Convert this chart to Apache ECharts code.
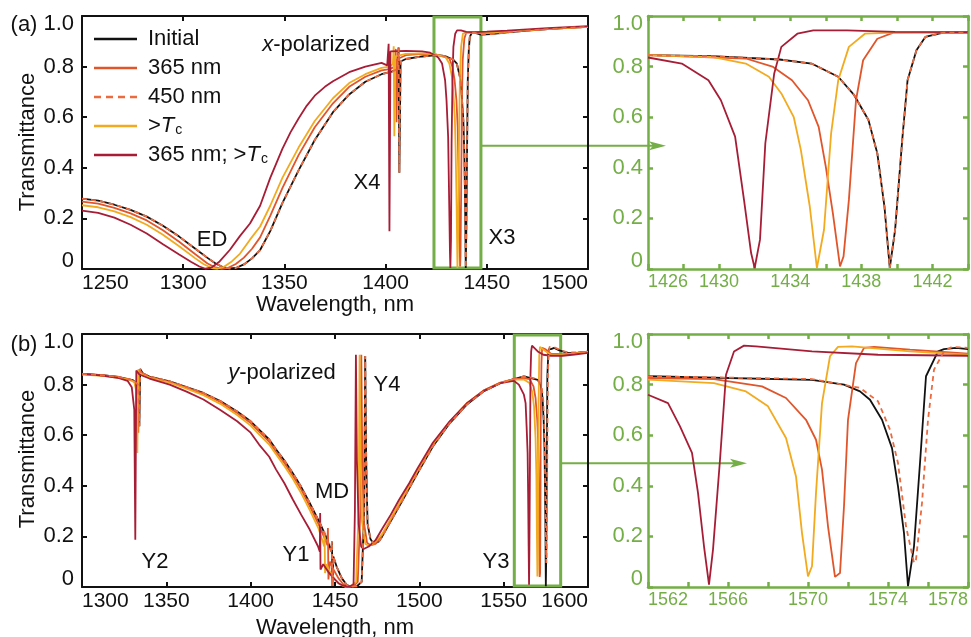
<!DOCTYPE html>
<html>
<head>
<meta charset="utf-8">
<script src="https://cdn.jsdelivr.net/npm/echarts@6/dist/echarts.min.js"></script>
<style>
  html, body { margin: 0; padding: 0; background: #fff; }
  #chart { width: 971px; height: 637px; }
</style>
</head>
<body>
<div id="chart"></div>
<script>
// ---------- series names ----------
const seriesNames = ['Initial', '365 nm', '450 nm', '>Tc', '365 nm; >Tc'];

// ---------- x-polarized spectra, [wavelength nm, transmittance] ----------
// broad range below the X3 window
const xpInitial = [[1250,.278],[1258,.270],[1266,.254],[1274,.234],[1282,.207],[1290,.171],[1298,.128],[1306,.080],[1312,.044],[1316,.022],[1320,.006],[1323,.002],[1326,.004],[1330,.018],[1334,.042],[1338,.075],[1343,.15],[1349,.26],[1357,.39],[1365,.51],[1374,.62],[1382,.69],[1390,.74],[1398,.77],[1403,.78],[1405.9,.79],[1406.4,.875],[1406.8,.38],[1407.4,.82],[1410,.83],[1418,.84],[1425,.845]];
const xp365 = [[1250,.266],[1258,.258],[1266,.242],[1274,.22],[1282,.192],[1290,.153],[1298,.108],[1306,.058],[1312,.022],[1316,.006],[1319,.001],[1322,.004],[1326,.02],[1330,.045],[1334,.08],[1338,.125],[1343,.21],[1349,.32],[1357,.45],[1365,.56],[1374,.655],[1382,.72],[1390,.76],[1398,.785],[1402,.79],[1404.6,.80],[1405.0,.87],[1405.4,.58],[1405.9,.83],[1410,.845],[1418,.85],[1425,.847]];
const xpHot = [[1250,.252],[1258,.244],[1266,.228],[1274,.205],[1282,.175],[1290,.135],[1298,.09],[1306,.042],[1310,.02],[1314,.004],[1317,.001],[1320,.008],[1324,.03],[1328,.06],[1333,.116],[1338,.168],[1343,.25],[1349,.36],[1357,.48],[1365,.585],[1374,.675],[1382,.735],[1390,.77],[1398,.795],[1402,.80],[1403.6,.81],[1404.0,.88],[1404.3,.525],[1404.8,.84],[1410,.85],[1418,.852],[1425,.848]];
const xp365Hot = [[1250,.231],[1258,.222],[1266,.203],[1274,.175],[1282,.14],[1290,.098],[1298,.057],[1304,.028],[1308,.01],[1311,.001],[1314,.006],[1318,.03],[1323,.075],[1328,.13],[1333,.18],[1338,.25],[1343,.36],[1349,.475],[1353,.54],[1357,.595],[1361,.645],[1365,.685],[1370,.72],[1374,.742],[1382,.778],[1390,.80],[1398,.815],[1400.8,.805],[1401.5,.89],[1401.9,.149],[1402.4,.86],[1410,.862],[1418,.86],[1422,.855],[1425,.842]];
// X3 resonance window
const xpInitialX3 = [[1426,.845],[1429.6,.841],[1433.4,.828],[1435.2,.812],[1436.7,.76],[1437.6,.687],[1438.4,.589],[1438.9,.457],[1439.3,.247],[1439.6,.004],[1439.9,.155],[1440.3,.51],[1440.6,.746],[1441.1,.865],[1441.6,.917],[1442.6,.934],[1444,.934]];
const xp365X3 = [[1426,.845],[1431.5,.832],[1433,.80],[1434.1,.746],[1435.0,.667],[1435.6,.562],[1436.0,.405],[1436.4,.22],[1436.8,.01],[1437.0,.05],[1437.3,.273],[1437.7,.667],[1438.1,.825],[1438.9,.91],[1439.8,.934],[1444,.935]];
const xpHotX3 = [[1426,.845],[1429.6,.838],[1431.5,.812],[1432.8,.76],[1433.5,.694],[1434.2,.60],[1434.6,.47],[1435.1,.247],[1435.5,.004],[1435.9,.155],[1436.3,.536],[1436.7,.746],[1437.3,.878],[1438.2,.93],[1439.8,.934],[1444,.935]];
const xp365HotX3 = [[1426,.836],[1427.9,.812],[1429.4,.746],[1430.1,.667],[1430.9,.523],[1431.4,.273],[1431.8,.063],[1432.0,.004],[1432.3,.116],[1432.6,.497],[1433.1,.773],[1433.5,.878],[1434.4,.93],[1435.3,.943],[1437.2,.943],[1439.9,.937],[1444,.936]];
// long-wavelength side
const xpInitialTail = [[1444,.934],[1447,.926],[1452,.928],[1460,.935],[1470,.942],[1480,.948],[1490,.953],[1500,.957]];
const xp365Tail = [[1444,.935],[1450,.932],[1460,.937],[1470,.943],[1480,.948],[1490,.953],[1500,.957]];
const xpHotTail = [[1444,.935],[1450,.933],[1460,.938],[1470,.944],[1480,.949],[1490,.953],[1500,.957]];
const xp365HotTail = [[1444,.936],[1450,.938],[1460,.942],[1470,.947],[1480,.952],[1490,.956],[1500,.96]];
// 450 nm exposure leaves the x-polarized spectrum unchanged
const xp450 = xpInitial, xp450X3 = xpInitialX3, xp450Tail = xpInitialTail;

// ---------- y-polarized spectra ----------
const ypInitial = [[1300,.842],[1312,.837],[1322,.830],[1330,.818],[1333.2,.80],[1334.0,.635],[1334.5,.862],[1336,.845],[1340,.832],[1352,.813],[1362,.79],[1372,.767],[1382,.735],[1392,.694],[1400,.655],[1405,.622],[1411,.583],[1415,.544],[1420,.50],[1425,.45],[1430,.395],[1435,.332],[1441,.253],[1445,.194],[1447.8,.14],[1448.2,.18],[1448.5,.003],[1449,.12],[1451,.08],[1454,.035],[1457,.008],[1460,.001],[1463,.003],[1465.8,.02],[1467.3,.3],[1467.9,.913],[1468.5,.5],[1469.3,.25],[1471,.19],[1473,.17],[1476,.18],[1478,.20],[1483,.26],[1488,.318],[1494,.39],[1499,.45],[1508,.555],[1518,.647],[1528,.72],[1538,.773],[1548,.806],[1556,.822],[1562,.833]];
const yp365 = [[1300,.842],[1312,.837],[1322,.829],[1328,.821],[1331,.812],[1332.6,.78],[1333.4,.61],[1333.9,.86],[1336,.843],[1340,.83],[1352,.811],[1362,.788],[1372,.764],[1382,.731],[1392,.688],[1400,.648],[1405,.614],[1411,.574],[1415,.535],[1420,.49],[1425,.44],[1430,.385],[1435,.32],[1440,.252],[1444,.19],[1445.5,.165],[1445.8,.233],[1446.1,.03],[1447,.10],[1449,.07],[1452,.035],[1455,.01],[1458,.001],[1461,.003],[1463.5,.02],[1465.0,.3],[1465.6,.918],[1466.2,.5],[1467,.26],[1469,.175],[1471,.165],[1474,.17],[1478,.205],[1483,.265],[1488,.325],[1494,.398],[1499,.458],[1508,.562],[1518,.652],[1528,.724],[1538,.776],[1548,.808],[1556,.822],[1562,.826]];
const ypHot = [[1300,.840],[1312,.835],[1322,.827],[1328,.819],[1331,.81],[1332.0,.78],[1332.8,.53],[1333.3,.86],[1335,.843],[1340,.828],[1352,.808],[1362,.784],[1372,.758],[1382,.724],[1392,.68],[1400,.638],[1405,.603],[1411,.563],[1415,.525],[1420,.478],[1425,.428],[1430,.37],[1435,.305],[1440,.235],[1443,.175],[1443.6,.16],[1443.8,.22],[1444.1,.055],[1445,.09],[1447,.06],[1450,.03],[1453,.01],[1456,.001],[1459,.003],[1462.5,.02],[1464.0,.3],[1464.6,.918],[1465.2,.5],[1466,.26],[1468,.17],[1470,.163],[1473,.172],[1478,.21],[1483,.27],[1488,.33],[1494,.40],[1499,.462],[1508,.565],[1518,.654],[1528,.725],[1538,.776],[1548,.807],[1556,.82],[1562,.82]];
const yp365Hot = [[1300,.842],[1312,.836],[1322,.826],[1327,.815],[1329.5,.79],[1331.0,.70],[1331.6,.187],[1332.2,.856],[1334,.84],[1340,.824],[1352,.80],[1362,.772],[1372,.741],[1382,.70],[1392,.655],[1400,.61],[1405,.563],[1411,.515],[1415,.465],[1420,.41],[1425,.346],[1430,.285],[1435,.227],[1439.9,.161],[1441.0,.14],[1441.2,.292],[1441.4,.069],[1443,.09],[1446,.06],[1449,.036],[1452,.015],[1455,.005],[1458.6,.002],[1461,.01],[1461.8,.3],[1462.4,.918],[1463,.5],[1464,.25],[1465.5,.16],[1467,.15],[1470,.16],[1474,.185],[1478,.23],[1483,.285],[1488,.345],[1494,.41],[1499,.47],[1508,.57],[1518,.655],[1528,.725],[1538,.775],[1548,.806],[1556,.815],[1559,.80],[1562,.76]];
const yp450 = ypInitial;
// Y3 resonance window
const ypInitialY3 = [[1562,.833],[1570.2,.819],[1571.8,.80],[1572.6,.773],[1573.1,.74],[1573.7,.661],[1574.2,.549],[1574.5,.398],[1574.8,.213],[1575.0,.003],[1575.3,.161],[1575.6,.49],[1575.9,.833],[1576.5,.931],[1576.8,.94],[1577.4,.945],[1578,.94]];
const yp450Y3 = [[1562,.833],[1570.2,.822],[1572.6,.787],[1573.5,.734],[1574.1,.622],[1574.5,.49],[1574.9,.24],[1575.3,.095],[1575.4,.108],[1575.7,.332],[1576.0,.661],[1576.3,.859],[1576.8,.931],[1577.2,.949],[1578,.945]];
const yp365Y3 = [[1562,.826],[1565.3,.822],[1567.7,.793],[1568.9,.747],[1569.9,.661],[1570.4,.582],[1570.7,.464],[1571.0,.24],[1571.35,.04],[1571.6,.055],[1571.8,.319],[1572.0,.661],[1572.4,.885],[1572.8,.945],[1573.3,.949],[1575.1,.938],[1578,.922]];
const ypHotY3 = [[1562,.82],[1565.3,.806],[1566.9,.773],[1568.0,.714],[1568.9,.589],[1569.4,.437],[1569.7,.213],[1570.0,.042],[1570.2,.082],[1570.4,.372],[1570.7,.727],[1571.1,.912],[1571.5,.949],[1572.2,.951],[1575.1,.931],[1578,.918]];
const yp365HotY3 = [[1562,.76],[1563.0,.727],[1563.6,.635],[1564.2,.53],[1564.5,.372],[1564.8,.161],[1565.05,.009],[1565.25,.148],[1565.6,.503],[1565.9,.839],[1566.3,.931],[1566.8,.954],[1567.4,.951],[1570.2,.931],[1573.5,.918],[1578,.914]];
// long-wavelength side
const ypInitialTail = [[1578,.94],[1580,.945],[1583,.935],[1588,.925],[1594,.926],[1600,.93]];
const yp450Tail = [[1578,.945],[1580,.948],[1583,.938],[1588,.927],[1594,.927],[1600,.93]];
const yp365Tail = [[1578,.922],[1585,.92],[1592,.924],[1600,.93]];
const ypHotTail = [[1578,.918],[1585,.918],[1592,.922],[1600,.928]];
const yp365HotTail = [[1578,.914],[1585,.914],[1592,.919],[1600,.925]];

// zoom windows marked on the overview panels (wavelength range)
const xWindow = [1423.9, 1447.1];
const yWindow = [1556.3, 1583.8];

// ---------- styling ----------
const FONT = '"Liberation Sans", Arial, Helvetica, sans-serif';
const INK = '#111111';
const GREEN = '#74ae46';
const styles = {
  'Initial':     { color: '#111111', type: 'solid' },
  '365 nm':      { color: '#e1552b', type: 'solid' },
  '450 nm':      { color: '#ec6a3f', type: 'dashed' },
  '>Tc':         { color: '#f2aa1f', type: 'solid' },
  '365 nm; >Tc': { color: '#a71d36', type: 'solid' }
};
const drawOrder = ['Initial', '365 nm', '>Tc', '365 nm; >Tc', '450 nm'];

const grids = [
  { left: 82,  top: 16,  width: 506, height: 253 },
  { left: 648, top: 16,  width: 323, height: 253 },
  { left: 82,  top: 334, width: 506, height: 253 },
  { left: 648, top: 334, width: 323, height: 253 }
];

function xAxisPair(gi, min, max, step, color, lw, fs, fmt) {
  const base = {
    type: 'value', gridIndex: gi, min: min, max: max, interval: step,
    splitLine: { show: false },
    axisLine: { show: true, onZero: false, lineStyle: { color: color, width: lw } },
    axisTick: { show: true, inside: true, length: 5, lineStyle: { color: color, width: lw } }
  };
  return [
    Object.assign({}, base, {
      position: 'bottom',
      axisLabel: { show: true, color: color, fontSize: fs, fontFamily: FONT, margin: 4,
        formatter: fmt, showMinLabel: true, showMaxLabel: true,
        alignMinLabel: 'left', alignMaxLabel: 'right' }
    }),
    Object.assign({}, base, { position: 'top', axisLabel: { show: false } })
  ];
}
function yAxisPair(gi, color, lw, fs, margin) {
  const base = {
    type: 'value', gridIndex: gi, min: 0, max: 1, interval: 0.2,
    splitLine: { show: false },
    axisLine: { show: true, onZero: false, lineStyle: { color: color, width: lw } },
    axisTick: { show: true, inside: true, length: 5, lineStyle: { color: color, width: lw } }
  };
  return [
    Object.assign({}, base, {
      position: 'left',
      axisLabel: { show: true, color: color, fontSize: fs, fontFamily: FONT, margin: margin,
        lineHeight: 16,
        formatter: v => (v === 0 ? '0' : v.toFixed(1)),
        verticalAlignMinLabel: 'bottom', verticalAlignMaxLabel: 'top' }
    }),
    Object.assign({}, base, { position: 'right', axisLabel: { show: false } })
  ];
}
const plainTick = v => String(Math.round(v));
const everyOther = start => v => ((Math.round(v) - start) % 4 === 0 ? String(Math.round(v)) : '');

const xAxes = [].concat(
  xAxisPair(0, 1250, 1500, 50, INK, 2, 21, plainTick),
  xAxisPair(1, 1426, 1444, 2, GREEN, 2.5, 18, everyOther(1426)),
  xAxisPair(2, 1300, 1600, 50, INK, 2, 21, plainTick),
  xAxisPair(3, 1562, 1578, 2, GREEN, 2.5, 18, everyOther(1562))
);
const yAxes = [].concat(
  yAxisPair(0, INK, 2, 22, 8),
  yAxisPair(1, GREEN, 2.5, 22, 5),
  yAxisPair(2, INK, 2, 22, 8),
  yAxisPair(3, GREEN, 2.5, 22, 5)
);

// spectra per panel
const panelData = [
  { // (a) overview
    'Initial': xpInitial.concat(xpInitialX3, xpInitialTail),
    '365 nm': xp365.concat(xp365X3, xp365Tail),
    '450 nm': xp450.concat(xp450X3, xp450Tail),
    '>Tc': xpHot.concat(xpHotX3, xpHotTail),
    '365 nm; >Tc': xp365Hot.concat(xp365HotX3, xp365HotTail)
  },
  { // (a) X3 detail
    'Initial': xpInitialX3, '365 nm': xp365X3, '450 nm': xp450X3,
    '>Tc': xpHotX3, '365 nm; >Tc': xp365HotX3
  },
  { // (b) overview
    'Initial': ypInitial.concat(ypInitialY3, ypInitialTail),
    '365 nm': yp365.concat(yp365Y3, yp365Tail),
    '450 nm': yp450.concat(yp450Y3, yp450Tail),
    '>Tc': ypHot.concat(ypHotY3, ypHotTail),
    '365 nm; >Tc': yp365Hot.concat(yp365HotY3, yp365HotTail)
  },
  { // (b) Y3 detail
    'Initial': ypInitialY3, '365 nm': yp365Y3, '450 nm': yp450Y3,
    '>Tc': ypHotY3, '365 nm; >Tc': yp365HotY3
  }
];

function windowArea(range) {
  return {
    silent: true,
    itemStyle: { color: 'rgba(0,0,0,0)', borderColor: GREEN, borderWidth: 3 },
    label: { show: false },
    data: [[{ xAxis: range[0], yAxis: 0.004 }, { xAxis: range[1], yAxis: 0.996 }]]
  };
}

const series = [];
panelData.forEach((panel, gi) => {
  drawOrder.forEach(name => {
    const st = styles[name];
    const s = {
      type: 'line', name: name, xAxisIndex: gi * 2, yAxisIndex: gi * 2,
      data: panel[name], symbol: 'none', showSymbol: false, animation: false,
      lineStyle: { color: st.color, width: 1.8, type: st.type === 'dashed' ? [5, 4] : 'solid' },
      itemStyle: { color: st.color }
    };
    if (name === 'Initial' && gi === 0) s.markArea = windowArea(xWindow);
    if (name === 'Initial' && gi === 2) s.markArea = windowArea(yWindow);
    series.push(s);
  });
});

// ---------- annotations ----------
function label(text, x, y, extra) {
  return {
    type: 'text', x: x, y: y, z: 100, silent: true,
    style: Object.assign({
      text: text, fill: INK, font: '22px ' + FONT, fontSize: 22, fontFamily: FONT,
      align: 'center', verticalAlign: 'middle',
      rich: { i: { fontStyle: 'italic', fontSize: 22, fontFamily: FONT, fill: INK } }
    }, extra || {})
  };
}
function vLabel(text, x, y) {
  const g = label(text, x, y);
  g.rotation = Math.PI / 2;
  return g;
}
function arrow(x0, x1, y) {
  return {
    type: 'group', silent: true, z: 100,
    children: [
      { type: 'line', shape: { x1: x0, y1: y, x2: x1 - 12, y2: y },
        style: { stroke: GREEN, lineWidth: 2 } },
      { type: 'polygon', shape: { points: [[x1, y], [x1 - 17, y - 4.5], [x1 - 13, y], [x1 - 17, y + 4.5]] },
        style: { fill: GREEN } }
    ]
  };
}

const graphics = [
  label('(a)', 24, 25),
  label('(b)', 24, 345),
  vLabel('Transmittance', 28, 142),
  vLabel('Transmittance', 28, 459),
  label('Wavelength, nm', 335, 305),
  label('Wavelength, nm', 335, 628),
  label('{i|x}-polarized', 316, 45),
  label('ED', 212, 240),
  label('X4', 367, 183),
  label('X3', 502, 238),
  label('{i|y}-polarized', 282, 373),
  label('Y4', 387, 385),
  label('MD', 332, 492),
  label('Y1', 296, 555),
  label('Y2', 155, 562),
  label('Y3', 496, 562),
  arrow(481, 666, 145.7),
  arrow(561, 747, 463.3)
];

// legend keys: a solid bar, or a row of dashes for the 450 nm trace
const SOLID_KEY = 'rect';
const DASH_KEY = 'path://M0,0h7v2.5h-7zM12,0h7v2.5h-7zM24,0h7v2.5h-7zM36,0h7v2.5h-7z';
const legendText = {
  '>Tc': '>{i|T}{s|c}',
  '365 nm; >Tc': '365 nm; >{i|T}{s|c}'
};

const chart = echarts.init(document.getElementById('chart'), null, { renderer: 'canvas' });
chart.setOption({
  animation: false,
  backgroundColor: '#ffffff',
  textStyle: { fontFamily: FONT },
  grid: grids,
  xAxis: xAxes,
  yAxis: yAxes,
  legend: {
    data: seriesNames.map(n => ({ name: n, icon: styles[n].type === 'dashed' ? DASH_KEY : SOLID_KEY })),
    orient: 'vertical', left: 94, top: 28, padding: 0,
    itemWidth: 43, itemHeight: 2.5, itemGap: 7,
    symbolKeepAspect: false,
    selectedMode: false,
    formatter: name => legendText[name] || name,
    textStyle: {
      fontSize: 22, fontFamily: FONT, color: INK, lineHeight: 22, padding: [0, 0, 0, 6],
      rich: {
        i: { fontStyle: 'italic', fontSize: 22, fontFamily: FONT, color: INK, lineHeight: 22 },
        s: { fontSize: 14, fontFamily: FONT, color: INK, verticalAlign: 'bottom', lineHeight: 14, padding: [8, 0, 0, 1] }
      }
    }
  },
  series: series,
  graphic: graphics
});
</script>
</body>
</html>
